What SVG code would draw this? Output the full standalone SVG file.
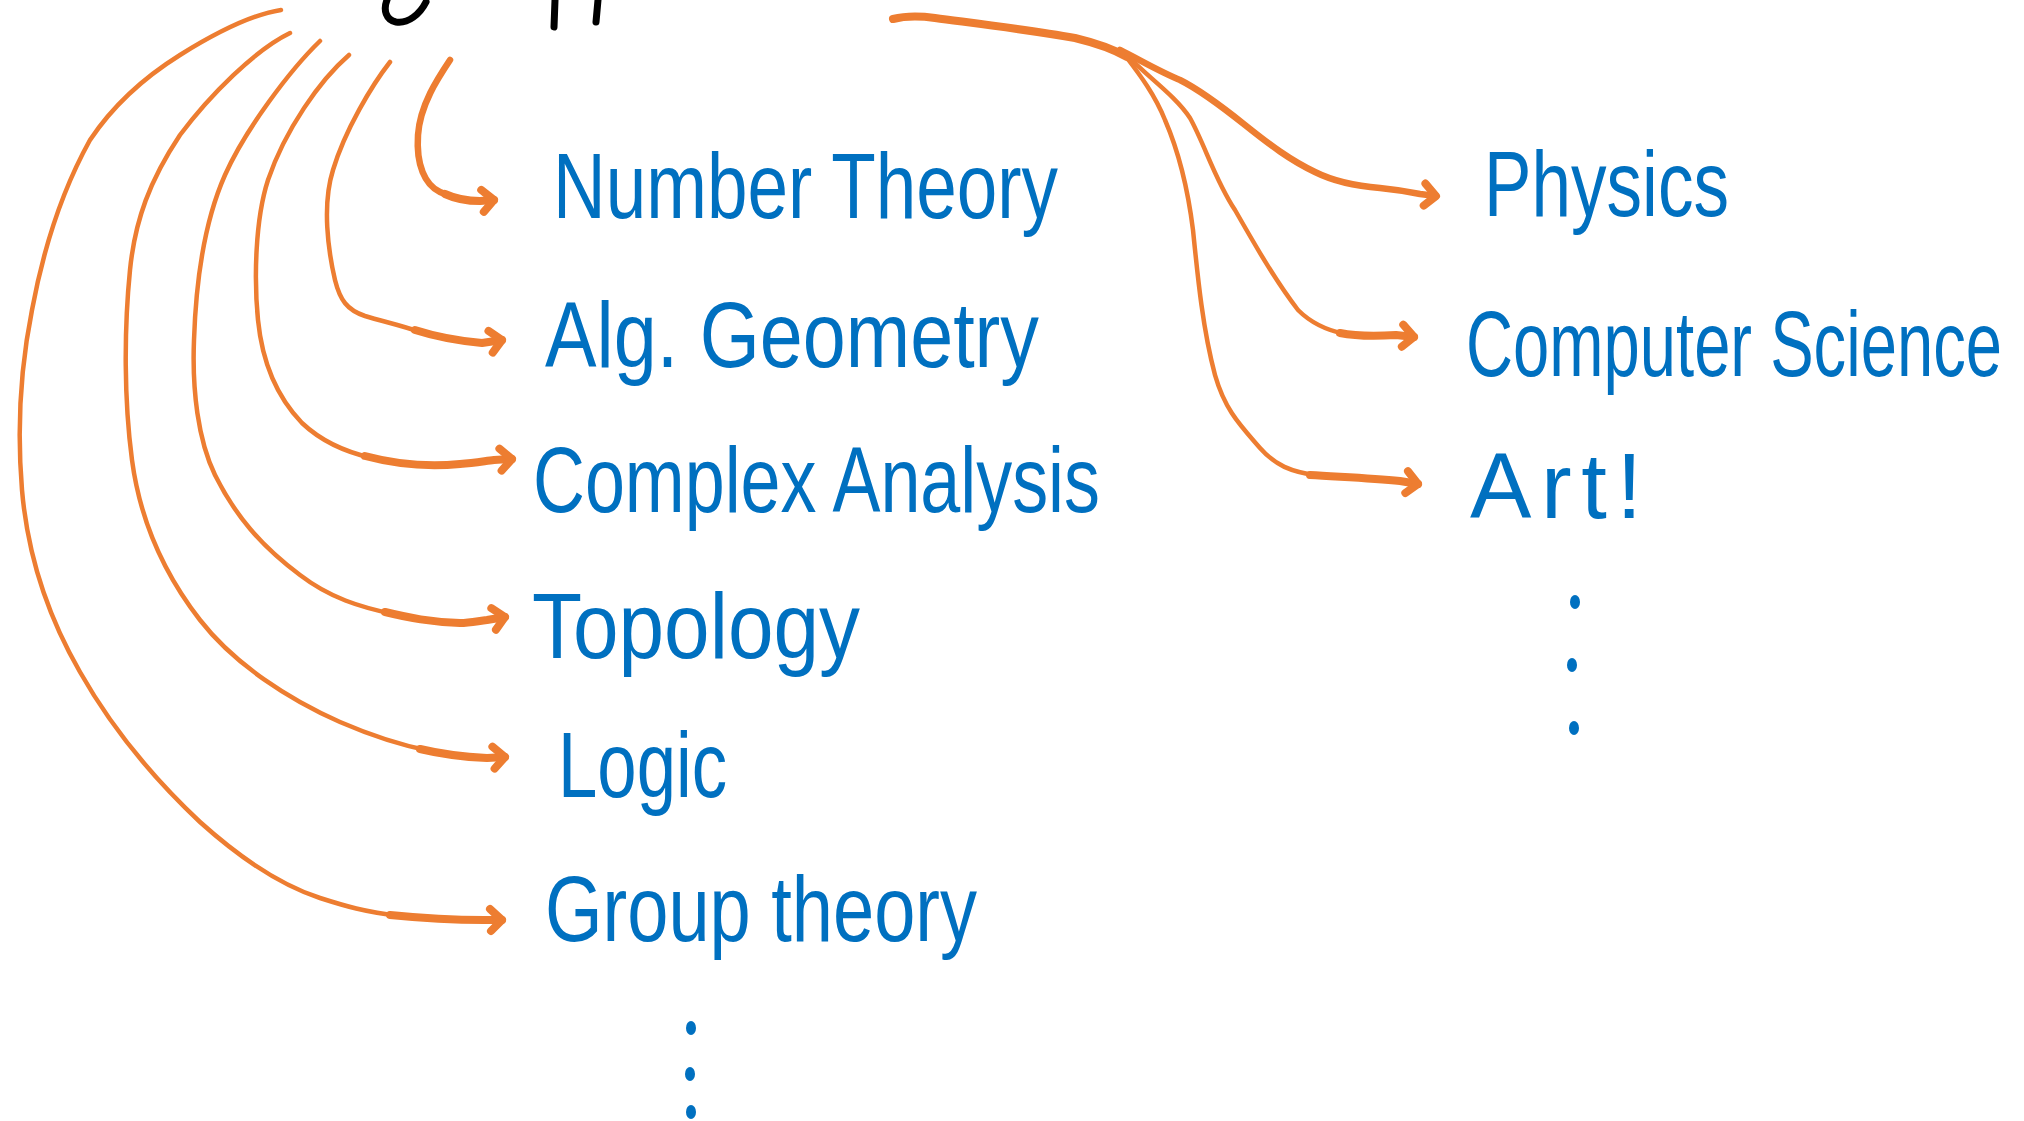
<svg xmlns="http://www.w3.org/2000/svg" width="2024" height="1121" viewBox="0 0 2024 1121">
<defs>
<style>
.thin{fill:none;stroke:#ED7D31;stroke-width:4.5;stroke-linecap:round;stroke-linejoin:round}
.mid{fill:none;stroke:#ED7D31;stroke-width:6.5;stroke-linecap:round;stroke-linejoin:round}
.thick{fill:none;stroke:#ED7D31;stroke-width:8;stroke-linecap:round;stroke-linejoin:round}
.head{marker-end:url(#ah)}
.lbl{font-family:"Liberation Sans",Arial,sans-serif;font-size:92px;fill:#0070C0}
.dot{fill:#0070C0}
.ink{fill:none;stroke:#000;stroke-width:7;stroke-linecap:round;stroke-linejoin:round}
</style>
<marker id="ah" markerUnits="userSpaceOnUse" markerWidth="40" markerHeight="40" viewBox="-20 -20 40 40" refX="0" refY="0" orient="auto">
<path d="M-12,-11 L0,0 L-11,11" fill="none" stroke="#ED7D31" stroke-width="8" stroke-linecap="round" stroke-linejoin="round"/>
</marker>
</defs>
<rect width="2024" height="1121" fill="#fff"/>

<g id="title-fragment">
<path class="ink" d="M387,0 C383,10 386,20 396,22 C408,24 420,14 426,2"/>
<path class="ink" d="M555,0 L554,27"/>
<path class="ink" d="M598,0 L596,22"/>
</g>

<g id="connectors">
<g id="arrow-number-theory">
<path class="mid" d="M450,60 C438,78 420,105 418,135 C416,165 425,185 440,192 C455,199 470,201 480,201"/>
<path class="thick head" d="M445,194 C458,200 470,201 480,201 L494,200"/>
</g>
<g id="arrow-alg-geometry">
<path class="thin" d="M390,62 C372,85 345,130 333,170 C322,205 328,250 335,280 C340,300 347,310 365,316 C385,322 400,325 420,332"/>
<path class="thick head" d="M415,330 C440,338 460,341 482,343 L502,340"/>
</g>
<g id="arrow-complex-analysis">
<path class="thin" d="M349,55 C320,80 285,130 268,180 C255,220 254,280 258,320 C262,360 275,395 302,423 C320,440 345,452 372,458"/>
<path class="thick head" d="M365,456 C395,464 430,467 460,464 C475,463 485,461 494,460 L512,459"/>
</g>
<g id="arrow-topology">
<path class="thin" d="M320,41 C290,70 245,130 225,175 C205,220 196,280 194,340 C192,390 198,440 215,475 C235,515 260,545 300,575 C330,598 360,607 393,614"/>
<path class="thick head" d="M385,612 C410,618 430,622 460,623 C470,623 478,621 487,620 L505,617"/>
</g>
<g id="arrow-logic">
<path class="thin" d="M290,33 C255,50 210,95 180,135 C150,180 135,220 130,270 C124,330 124,400 132,460 C140,520 165,575 200,620 C235,665 290,700 340,722 C370,735 400,745 430,751"/>
<path class="thick head" d="M420,749 C445,755 465,757 487,758 L505,757"/>
</g>
<g id="arrow-group-theory">
<path class="thin" d="M281,10 C255,14 220,30 180,55 C140,80 110,110 90,140 C65,185 45,240 32,310 C20,370 17,430 22,490 C28,560 50,620 80,672 C110,725 150,775 200,822 C240,858 280,885 320,898 C345,906 365,912 400,916"/>
<path class="thick head" d="M390,915 C420,918 450,920 484,920 L502,920"/>
</g>
<g id="arrow-trunk">
<path class="thick" d="M893,19 C905,16 920,16 935,18 C980,24 1030,30 1075,38 C1100,44 1115,50 1127,57"/>
</g>
<g id="arrow-physics">
<path class="mid head" d="M1120,50 C1140,60 1160,72 1180,80 C1200,90 1220,105 1245,125 C1270,145 1290,160 1315,172 C1335,182 1355,186 1380,188 C1400,190 1410,192 1420,194 L1436,196"/>
</g>
<g id="arrow-computer-science">
<path class="thin" d="M1127,55 C1145,75 1175,95 1190,118 C1205,145 1215,180 1235,210 C1255,245 1275,280 1298,310 C1310,322 1325,330 1345,334"/>
<path class="thick head" d="M1340,333 C1360,337 1380,336 1396,335 L1414,337"/>
</g>
<g id="arrow-art">
<path class="thin" d="M1127,58 C1140,75 1155,95 1165,120 C1178,150 1188,190 1193,230 C1198,280 1203,330 1215,375 C1225,410 1240,425 1260,448 C1275,465 1290,472 1320,476"/>
<path class="thick head" d="M1310,475 C1340,477 1370,478 1400,481 L1418,484"/>
</g>
</g>

<g id="node-number-theory"><text class="lbl" x="553" y="218" textLength="505" lengthAdjust="spacingAndGlyphs">Number Theory</text></g>
<g id="node-alg-geometry"><text class="lbl" x="545" y="367" textLength="494" lengthAdjust="spacingAndGlyphs">Alg. Geometry</text></g>
<g id="node-complex-analysis"><text class="lbl" x="533" y="512" textLength="567" lengthAdjust="spacingAndGlyphs">Complex Analysis</text></g>
<g id="node-topology"><text class="lbl" x="532" y="658" textLength="328" lengthAdjust="spacingAndGlyphs">Topology</text></g>
<g id="node-logic"><text class="lbl" x="558" y="797" textLength="169" lengthAdjust="spacingAndGlyphs">Logic</text></g>
<g id="node-group-theory"><text class="lbl" x="545" y="941" textLength="432" lengthAdjust="spacingAndGlyphs">Group theory</text></g>
<g id="node-left-more">
<ellipse class="dot" cx="691" cy="1028" rx="5" ry="7"/>
<ellipse class="dot" cx="690" cy="1074" rx="5" ry="7"/>
<ellipse class="dot" cx="691" cy="1112" rx="5" ry="7"/>
</g>
<g id="node-physics"><text class="lbl" x="1484" y="216" textLength="245" lengthAdjust="spacingAndGlyphs">Physics</text></g>
<g id="node-computer-science"><text class="lbl" transform="translate(1466,376) scale(0.708,1)" x="0" y="0" textLength="757" lengthAdjust="spacingAndGlyphs">Computer Science</text></g>
<g id="node-art"><text class="lbl" x="1470" y="518" textLength="172" lengthAdjust="spacing">Art!</text></g>
<g id="node-right-more">
<ellipse class="dot" cx="1575" cy="602" rx="5" ry="7"/>
<ellipse class="dot" cx="1572" cy="665" rx="5" ry="7"/>
<ellipse class="dot" cx="1574" cy="728" rx="5" ry="7"/>
</g>
</svg>
